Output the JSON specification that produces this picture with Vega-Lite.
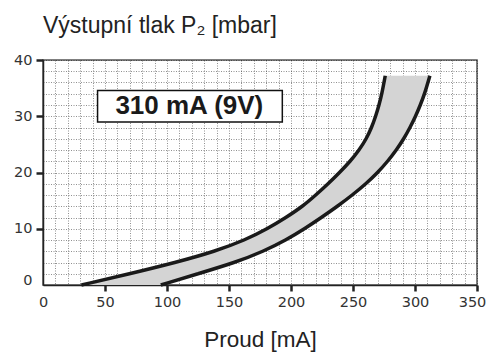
{
  "$schema": "https://vega.github.io/schema/vega-lite/v6.json",
  "width": 434,
  "height": 225,
  "autosize": "none",
  "padding": {"left": 43, "top": 60, "right": 13, "bottom": 69},
  "background": "white",
  "title": {
    "text": "Výstupní tlak P₂ [mbar]",
    "anchor": "start",
    "frame": "group",
    "font": "Liberation Sans",
    "fontSize": 23,
    "fontWeight": "normal",
    "color": "#222",
    "baseline": "alphabetic",
    "offset": -4
  },
  "datasets": {
    "band": [
      {"tlak": 0, "i_min": 31, "i_max": 95},
      {"tlak": 2, "i_min": 70, "i_max": 125},
      {"tlak": 4, "i_min": 107, "i_max": 155},
      {"tlak": 6, "i_min": 139, "i_max": 178},
      {"tlak": 8, "i_min": 163, "i_max": 196},
      {"tlak": 10, "i_min": 181, "i_max": 211},
      {"tlak": 12, "i_min": 196, "i_max": 224.5},
      {"tlak": 14, "i_min": 209.5, "i_max": 237.5},
      {"tlak": 16, "i_min": 220, "i_max": 249.5},
      {"tlak": 18, "i_min": 230, "i_max": 260.5},
      {"tlak": 20, "i_min": 239.2, "i_max": 270},
      {"tlak": 22, "i_min": 247.8, "i_max": 278},
      {"tlak": 24, "i_min": 255, "i_max": 285},
      {"tlak": 26, "i_min": 260.8, "i_max": 291},
      {"tlak": 28, "i_min": 265, "i_max": 296},
      {"tlak": 30, "i_min": 268.3, "i_max": 300.5},
      {"tlak": 32, "i_min": 271, "i_max": 304.3},
      {"tlak": 34, "i_min": 273.3, "i_max": 307.8},
      {"tlak": 37.2, "i_min": 276, "i_max": 312}
    ],
    "box": [
      {"x1": 44, "x2": 193, "y1": 29, "y2": 34.6, "tx": 118, "ty": 30.4, "label": "310 mA (9V)"}
    ]
  },
  "encoding": {
    "x": {
      "type": "quantitative",
      "scale": {"domain": [0, 350], "nice": false, "zero": false},
      "axis": {
        "title": "Proud [mA]",
        "values": [0,10,20,30,40,50,60,70,80,90,100,110,120,130,140,150,160,170,180,190,200,210,220,230,240,250,260,270,280,290,300,310,320,330,340,350],
        "labelExpr": "datum.value % 50 === 0 ? datum.label : ''",
        "tickOpacity": {"condition": {"test": "datum.value % 50 === 0 && datum.value > 0", "value": 1}, "value": 0},
        "labelOffset": {"condition": {"test": "datum.value === 350", "value": -5}, "value": 0},
        "tickSize": 6,
        "labelPadding": 4,
        "titlePadding": 20
      }
    },
    "y": {
      "type": "quantitative",
      "scale": {"domain": [0, 40], "nice": false, "zero": false},
      "axis": {
        "title": null,
        "values": [0,2,4,6,8,10,12,14,16,18,20,22,24,26,28,30,32,34,36,38,40],
        "labelExpr": "datum.value % 10 === 0 ? datum.label : ''",
        "tickOpacity": {"condition": {"test": "datum.value % 10 === 0 && datum.value > 0", "value": 1}, "value": 0},
        "labelOffset": {"condition": {"test": "datum.value === 0", "value": -5}, "value": 0},
        "tickSize": 7,
        "labelPadding": 4
      }
    }
  },
  "layer": [
    {
      "data": {"name": "band"},
      "mark": {"type": "area", "orient": "horizontal", "interpolate": "basis", "color": "#d4d4d4"},
      "encoding": {
        "y": {"field": "tlak"},
        "x": {"field": "i_min"},
        "x2": {"field": "i_max"}
      }
    },
    {
      "data": {"name": "band"},
      "mark": {"type": "line", "interpolate": "basis", "color": "#1a1a1a", "strokeWidth": 3.5},
      "encoding": {
        "y": {"field": "tlak"},
        "x": {"field": "i_min"}
      }
    },
    {
      "data": {"name": "band"},
      "mark": {"type": "line", "interpolate": "basis", "color": "#1a1a1a", "strokeWidth": 3.5},
      "encoding": {
        "y": {"field": "tlak"},
        "x": {"field": "i_max"}
      }
    },
    {
      "data": {"name": "box"},
      "mark": {"type": "rect", "fill": "white", "stroke": "#111", "strokeWidth": 1.5},
      "encoding": {
        "x": {"field": "x1"},
        "x2": {"field": "x2"},
        "y": {"field": "y1"},
        "y2": {"field": "y2"}
      }
    },
    {
      "data": {"name": "box"},
      "mark": {"type": "text", "font": "Liberation Sans", "fontSize": 26, "fontWeight": "bold", "color": "#1a1a1a", "align": "center", "baseline": "alphabetic"},
      "encoding": {
        "x": {"field": "tx"},
        "y": {"field": "ty"},
        "text": {"field": "label"}
      }
    }
  ],
  "config": {
    "view": {"stroke": "#555", "strokeWidth": 1.5},
    "axis": {
      "grid": true,
      "gridColor": "#000",
      "gridDash": [1, 1.5],
      "gridWidth": 0.8,
      "gridOpacity": 0.55,
      "domainColor": "#222",
      "domainWidth": 1.5,
      "tickColor": "#222",
      "tickWidth": 2.5,
      "labelFont": "DejaVu Sans",
      "labelFontSize": 14.5,
      "labelColor": "#333",
      "labelFlush": false,
      "labelOverlap": false,
      "titleFont": "Liberation Sans",
      "titleFontSize": 22.5,
      "titleFontWeight": "normal",
      "titleColor": "#222"
    }
  }
}
